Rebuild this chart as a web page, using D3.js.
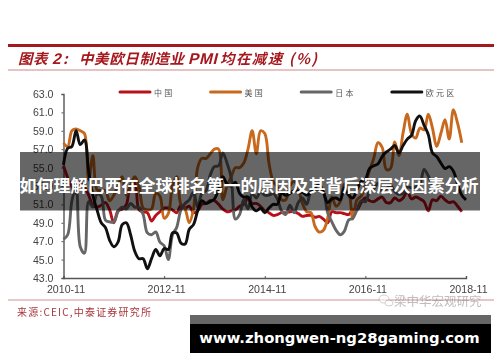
<!DOCTYPE html>
<html>
<head>
<meta charset="utf-8">
<script src="https://cdn.jsdelivr.net/npm/d3@7"></script>
<style>
    html, body { margin: 0; padding: 0; background: #fff; }
    svg { display: block; }
</style>
</head>
<body>
<svg id="chart" width="500" height="362"></svg>
<script>
const seriesNames = ["中国", "美国", "日本", "欧元区"];
const seriesColors = ["#b8111a", "#c8691d", "#666666", "#111111"];
const yTicks = [43, 45, 47, 49, 51, 53, 55, 57, 59, 61, 63];
const xTickIndex = [0, 24, 48, 72, 96];
const xTickLabels = ["2010-11", "2012-11", "2014-11", "2016-11", "2018-11"];
const titleParts = ["图表", "2", ":", "中美欧日制造业", "PMI", "均在减速", "(%)"];

// monthly readings, first value is 2010-11
const china = [55.2, 53.9, 52.9, 52.2, 53.4, 52.9, 52.0, 50.9, 50.7, 50.9, 51.2, 50.4, 49.0, 50.3, 50.5, 51.0,
    53.1, 53.3, 50.4, 50.2, 50.1, 49.2, 49.8, 50.2, 50.6, 50.6, 50.4, 50.1, 50.9, 50.6, 50.8, 50.1,
    50.3, 51.0, 51.1, 51.4, 51.4, 51.0, 50.5, 50.2, 50.3, 50.4, 50.8, 51.0, 51.7, 51.1, 51.1, 50.8,
    50.3, 50.1, 49.8, 49.9, 50.1, 50.1, 50.2, 50.2, 50.0, 49.7, 49.8, 49.8, 49.6, 49.7, 49.4, 49.0,
    50.2, 50.1, 50.1, 50.0, 49.9, 50.4, 50.4, 51.2, 51.7, 51.4, 51.3, 51.6, 51.8, 51.2, 51.2, 51.7,
    51.4, 51.7, 52.4, 51.6, 51.8, 51.6, 51.3, 50.3, 51.5, 51.4, 51.9, 51.5, 51.2, 51.3, 50.8, 50.2];
const usa = [57.7, 57.3, 59.0, 59.2, 59.0, 58.7, 53.7, 56.3, 52.6, 52.5, 52.5, 51.4, 52.0, 53.0, 54.0, 52.0,
    53.0, 54.0, 53.0, 50.6, 50.4, 50.5, 52.2, 51.9, 49.5, 50.0, 53.0, 54.0, 51.0, 50.5, 49.0, 50.5,
    55.0, 56.0, 56.0, 56.5, 57.0, 57.0, 51.5, 53.0, 54.0, 55.0, 55.0, 55.5, 57.0, 59.0, 56.5, 59.0,
    58.7, 55.5, 53.5, 52.9, 51.5, 51.5, 53.0, 53.5, 52.7, 51.1, 50.2, 50.1, 48.6, 48.0, 48.2, 49.5,
    51.8, 50.8, 51.3, 53.2, 52.6, 49.4, 51.5, 51.9, 53.2, 54.7, 56.0, 57.7, 57.2, 54.8, 54.9, 57.8,
    56.3, 58.8, 60.8, 58.7, 58.2, 59.3, 59.1, 60.8, 59.3, 57.3, 58.7, 60.2, 58.1, 61.3, 59.8, 57.7];
const japan = [47.2, 47.7, 51.4, 52.9, 46.4, 45.7, 51.3, 50.7, 52.1, 51.9, 49.3, 49.1, 49.1, 50.2, 50.7, 50.5,
    51.1, 50.7, 50.7, 49.9, 47.9, 47.7, 48.0, 46.9, 46.5, 45.0, 47.7, 48.5, 50.4, 51.1, 51.5, 52.3,
    50.7, 52.2, 52.5, 54.2, 55.1, 55.2, 56.6, 55.5, 53.9, 49.4, 49.9, 51.5, 50.5, 52.2, 51.7, 52.4,
    52.0, 52.0, 52.2, 51.6, 50.3, 49.9, 50.9, 50.1, 51.2, 51.7, 51.0, 52.4, 52.6, 52.6, 52.3, 50.1,
    49.1, 48.2, 47.7, 48.1, 49.3, 49.5, 50.4, 51.4, 51.3, 52.4, 52.7, 53.3, 52.4, 52.7, 53.1, 52.4,
    52.1, 52.2, 52.9, 52.8, 52.9, 53.2, 54.8, 54.1, 53.1, 52.6];
const euroArea = [55.3, 57.1, 57.3, 59.0, 57.5, 58.0, 54.6, 52.0, 50.4, 49.0, 48.5, 47.1, 46.4, 46.9, 48.8, 49.0,
    47.7, 45.9, 45.1, 45.1, 44.0, 45.1, 46.1, 45.4, 46.2, 46.1, 47.9, 47.9, 46.8, 46.7, 48.3, 48.8,
    50.3, 51.4, 51.1, 51.3, 51.6, 52.7, 54.0, 53.2, 53.0, 53.4, 52.2, 51.8, 51.8, 50.7, 50.3, 50.6,
    50.1, 50.6, 51.0, 51.0, 52.2, 52.0, 52.2, 52.5, 52.4, 52.3, 52.0, 52.3, 52.8, 53.2, 52.3, 51.2,
    51.6, 51.7, 51.5, 52.8, 52.0, 51.7, 52.6, 53.5, 53.7, 54.9, 55.2, 55.4, 56.2, 56.7, 57.0, 57.4,
    56.6, 57.4, 58.1, 58.5, 60.1, 60.6, 59.6, 58.6, 56.6, 56.2, 55.5, 54.9, 55.1, 54.6, 53.2, 52.0, 51.5];
const seriesValues = [china, usa, japan, euroArea];

let svg = d3.select("#chart");

let x = d3.scaleLinear().domain([0, 96]).range([63.5, 466]);
let y = d3.scaleLinear().domain([43, 63]).range([278, 94]);

let chart = svg.append("g").style("filter", "blur(0.5px)");

// header and footer rules
chart.append("rect").attr("x", 8).attr("y", 44).attr("width", 486).attr("height", 3).style("fill", "#a5181d");
chart.append("rect").attr("x", 8).attr("y", 69.5).attr("width", 486).attr("height", 1).style("fill", "#c98a8c");
chart.append("rect").attr("x", 8).attr("y", 299.5).attr("width", 486).attr("height", 1).style("fill", "#cf9294");

// title is set in pieces so each one starts where it does in the original
let titleX = [18, 52, 63, 79, 188, 220, 289];
chart.append("g").selectAll("text")
    .data(titleParts)
    .enter().append("text")
    .attr("transform", (d, i) => `translate(${titleX[i]},64) skewX(-14)`)
    .style("font-family", d => /^[2P]/.test(d) ? "'Liberation Sans', sans-serif" : "'Noto Sans CJK SC', sans-serif")
    .style("font-weight", "bold")
    .style("font-size", d => /^[2P]/.test(d) ? "15.5px" : "14.5px")
    .style("letter-spacing", d => d == "均在减速" ? "1.4px" : d == "(%)" ? "1.5px" : "0.6px")
    .style("fill", "#a5181d")
    .text(d => d);

chart.append("text")
    .attr("x", 17)
    .attr("y", 316)
    .style("font-family", "'Noto Sans CJK SC', sans-serif")
    .style("font-size", "10px")
    .style("letter-spacing", "1.2px")
    .style("fill", "#a8383c")
    .text("来源:CEIC,中泰证券研究所");

// legend
let legend = chart.append("g").selectAll("g")
    .data(seriesNames)
    .enter().append("g")
    .attr("transform", (d, i) => `translate(${120 + i * 90.6},92)`);

legend.append("line")
    .attr("x1", 0)
    .attr("x2", 30)
    .style("stroke", (d, i) => seriesColors[i])
    .style("stroke-width", 3)
    .style("stroke-linecap", "round");

legend.append("text")
    .attr("x", 34)
    .attr("y", 3.5)
    .style("font-family", "'Noto Sans CJK SC', sans-serif")
    .style("font-size", "8px")
    .style("letter-spacing", "2.2px")
    .style("fill", "#555")
    .text(d => d);

// axes
let yAxis = chart.append("g")
    .attr("transform", "translate(63.5,0)")
    .call(d3.axisLeft(y).tickValues(yTicks).tickSize(2).tickPadding(8).tickFormat(d3.format(".1f")));

let xAxis = chart.append("g")
    .attr("transform", "translate(0,278)")
    .call(d3.axisBottom(x).tickValues(xTickIndex).tickSize(-2).tickPadding(7).tickFormat((d, i) => xTickLabels[i]));

[yAxis, xAxis].forEach(axis => {
    axis.selectAll("path").style("stroke", "#555").style("stroke-width", 1.4);
    axis.selectAll("line").style("stroke", "#555");
    axis.selectAll("text")
        .style("font-family", "'Liberation Sans', Arial, sans-serif")
        .style("font-size", "10.6px")
        .style("fill", "#444");
});
xAxis.selectAll("text").attr("dx", 2);

// lines
let line = d3.line()
    .x((d, i) => x(i))
    .y(d => y(d))
    .curve(d3.curveCatmullRom.alpha(0.5));

chart.append("g").selectAll("path")
    .data(seriesValues)
    .enter().append("path")
    .attr("d", d => line(d))
    .style("fill", "none")
    .style("stroke", (d, i) => seriesColors[i])
    .style("stroke-width", 2.9)
    .style("stroke-linejoin", "round");

// wechat mark over the bottom rule
let mark = chart.append("g").style("opacity", 0.55);
mark.append("ellipse").attr("cx", 384).attr("cy", 299).attr("rx", 5).attr("ry", 4)
    .style("fill", "#fff").style("stroke", "#aaa");
mark.append("ellipse").attr("cx", 389).attr("cy", 303).attr("rx", 4).attr("ry", 3)
    .style("fill", "#fff").style("stroke", "#aaa");
mark.append("text")
    .attr("x", 394)
    .attr("y", 305.5)
    .style("font-family", "'Noto Sans CJK SC', sans-serif")
    .style("font-size", "12.5px")
    .style("fill", "#888")
    .text("梁中华宏观研究");

// overlays
svg.append("rect").attr("x", 20).attr("y", 152).attr("width", 460).attr("height", 58.5)
    .style("fill", "rgba(0,0,0,0.6)");

svg.append("text")
    .attr("x", 249)
    .attr("y", 192)
    .style("text-anchor", "middle")
    .style("font-family", "'Noto Sans CJK SC', sans-serif")
    .style("font-weight", "bold")
    .style("font-size", "17px")
    .style("fill", "#fff")
    .text("如何理解巴西在全球排名第一的原因及其背后深层次因素分析");

svg.append("rect").attr("x", 190).attr("y", 315).attr("width", 301).attr("height", 9).style("fill", "#666");
svg.append("rect").attr("x", 190).attr("y", 324).attr("width", 301).attr("height", 29).style("fill", "#000");

svg.append("text")
    .attr("x", 339.5)
    .attr("y", 343)
    .style("text-anchor", "middle")
    .style("font-family", "'DejaVu Sans', sans-serif")
    .style("font-weight", "bold")
    .style("font-size", "14.8px")
    .style("fill", "#fff")
    .text("www.zhongwen-ng28gaming.com");
</script>
</body>
</html>
